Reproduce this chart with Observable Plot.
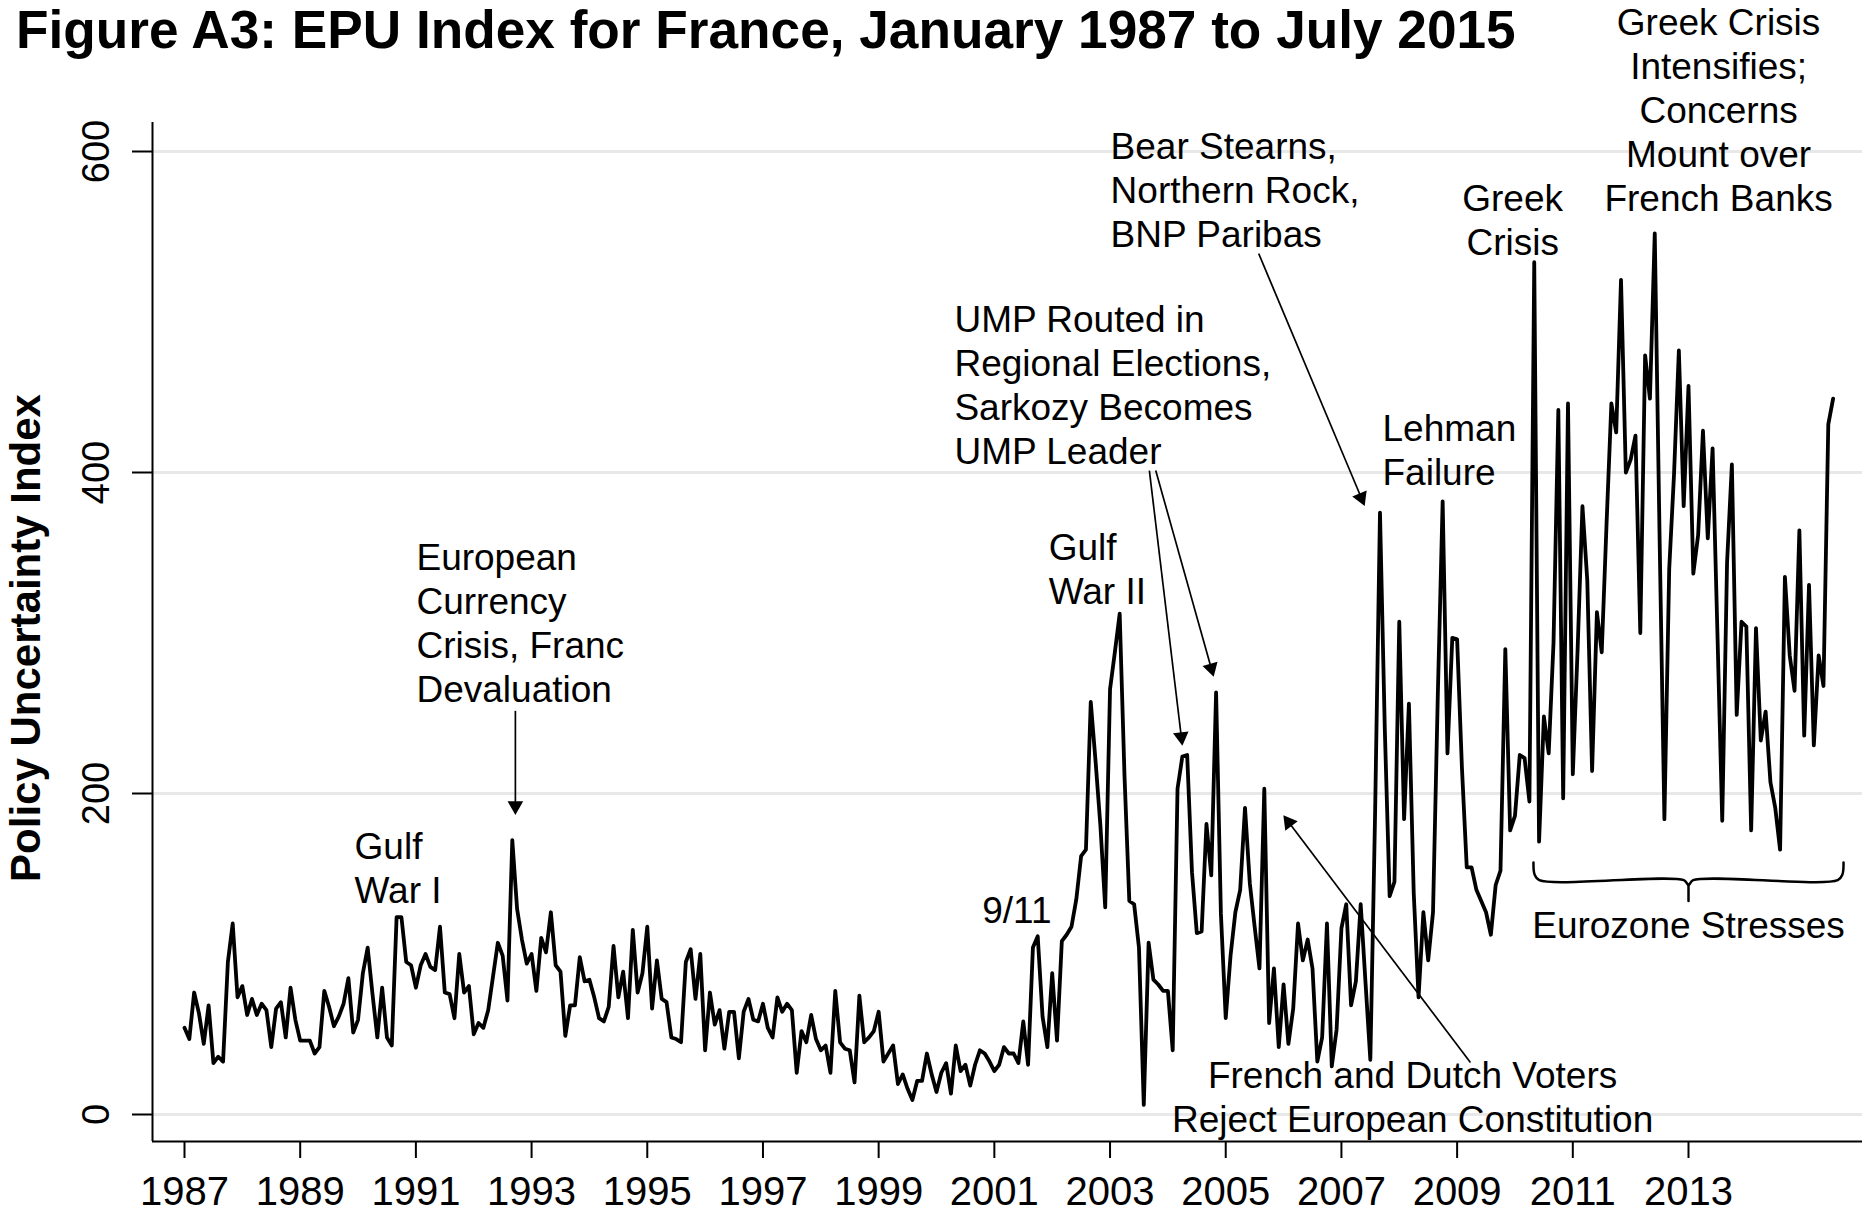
<!DOCTYPE html>
<html><head><meta charset="utf-8">
<script src="https://cdn.jsdelivr.net/npm/d3@7"></script>
<script src="https://cdn.jsdelivr.net/npm/@observablehq/plot@0.6"></script>
<style>
body{margin:0;background:#fff;}
#wrap{position:relative;width:1864px;height:1214px;overflow:hidden;}
#title{position:absolute;left:16px;top:0px;font:bold 53.2px "Liberation Sans",Arial,sans-serif;line-height:60px;white-space:nowrap;color:#000;z-index:2;}
#chart{position:absolute;left:0;top:0;}
</style></head>
<body><div id="wrap"><div id="title">Figure A3: EPU Index for France, January 1987 to July 2015</div><div id="chart"></div></div>
<script>
// ---- data: monthly EPU index for France, Jan 1987 .. Jul 2015 ----
const startYear = 1987;
const epu = [
  54,47,76,63,44,68,32,36,33,95,119,73,      // 1987
  80,62,72,62,69,65,42,66,70,48,79,59,       // 1988
  46,46,46,38,42,77,67,55,61,69,85,51,       // 1989
  59,88,104,75,48,79,48,43,123,123,95,93,    // 1990
  79,93,100,92,90,117,76,75,60,100,76,80,    // 1991
  50,57,54,65,86,107,99,71,171,128,109,94,   // 1992
  100,77,110,101,126,93,89,49,68,68,98,83,   // 1993
  84,73,60,58,67,105,73,89,60,115,76,88,     // 1994
  117,66,96,72,70,48,47,45,95,103,72,100,    // 1995
  40,76,56,65,41,64,64,35,64,72,59,58,       // 1996
  69,54,48,73,64,69,65,26,52,45,62,47,       // 1997
  40,43,26,77,45,41,40,20,74,45,48,52,       // 1998
  64,33,38,43,19,25,16,9,21,21,38,25,        // 1999
  14,26,32,13,43,27,31,18,31,40,38,33,       // 2000
  27,31,42,38,38,32,58,31,104,111,61,42,     // 2001
  88,46,108,112,117,134,161,165,257,220,180,129, // 2002
  265,288,312,211,133,131,104,6,107,84,81,77,    // 2003
  77,40,203,223,224,151,113,114,181,149,263,125, // 2004
  60,99,126,140,191,144,117,91,203,57,91,42,     // 2005
  81,44,66,119,96,109,91,33,48,119,30,53,        // 2006
  116,131,68,83,131,82,34,190,375,240,136,145,   // 2007
  307,184,256,138,73,126,96,126,262,382,225,297, // 2008
  296,216,154,154,140,133,126,112,143,152,290,177, // 2009
  186,224,222,195,531,170,248,225,294,439,197,443, // 2010
  212,290,379,333,214,313,288,368,443,425,520,400, // 2011
  408,423,300,473,446,549,360,184,340,399,476,379, // 2012
  454,337,361,426,359,415,300,183,344,405,249,307, // 2013
  304,177,303,233,251,207,191,165,335,286,264,364, // 2014
  236,330,230,286,267,430,446                      // 2015 (Jan-Jul)
];
const xTicks = [1987,1989,1991,1993,1995,1997,1999,2001,2003,2005,2007,2009,2011,2013];
const yTicks = [0,200,400,600];

// annotation texts (anchor: decimal year, index value of the last line's baseline)
const notesLeft = [
  {x:1989.94, y:131.5, text:"Gulf\nWar I"},
  {x:1991.01, y:256.7, text:"European\nCurrency\nCrisis, Franc\nDevaluation"},
  {x:2000.79, y:119.6, text:"9/11"},
  {x:2001.94, y:317.8, text:"Gulf\nWar II"},
  {x:2000.31, y:405.0, text:"UMP Routed in\nRegional Elections,\nSarkozy Becomes\nUMP Leader"},
  {x:2003.01, y:540.8, text:"Bear Stearns,\nNorthern Rock,\nBNP Paribas"},
  {x:2007.71, y:392.5, text:"Lehman\nFailure"}
];
const notesCenter = [
  {x:2009.96, y:535.8, text:"Greek\nCrisis"},
  {x:2013.52, y:563.2, text:"Greek Crisis\nIntensifies;\nConcerns\nMount over\nFrench Banks"},
  {x:2008.23, y:-11.2, text:"French and Dutch Voters\nReject European Constitution"},
  {x:2013.0, y:109.7, text:"Eurozone Stresses"}
];
const arrows = [
  {x1:1992.72, y1:251.5, x2:1992.72, y2:186.9},
  {x1:2003.68, y1:401.2, x2:2004.25, y2:229.9},
  {x1:2003.79, y1:401.2, x2:2004.79, y2:272.9},
  {x1:2005.57, y1:536.4, x2:2007.40, y2:379.4},
  {x1:2009.23, y1:32.4,  x2:2006.00, y2:186.3}
];
const bracePath = [
  {x:2010.32,y:157},{x:2010.34,y:149.5},{x:2010.42,y:146},{x:2012.92,y:146},
  {x:2013.0,y:143},{x:2013.08,y:146},{x:2015.58,y:146},{x:2015.66,y:149.5},{x:2015.68,y:157}
];
const braceTip = [{x:2013.0,y:143},{x:2013.0,y:133}];

// ---- layout ----
const W = 1864, H = 1214;
const mL = 152, mR = 2, mT = 122, mB = 73;
const xScale = {type:"linear", domain:[1987, 2013], range:[184, 1688]};
const yScale = {type:"linear", domain:[0, 600], range:[1114, 151]};
const sx = Plot.scale({x: xScale});
const sy = Plot.scale({y: yScale});

const series = epu.map((v, i) => ({t: startYear + i / 12, v}));

const HEAD = 13, TIPC = 8.66;
const heads = arrows.map(a => {
  const X1 = sx.apply(a.x1), Y1 = sy.apply(a.y1), X2 = sx.apply(a.x2), Y2 = sy.apply(a.y2);
  const L = Math.hypot(X2 - X1, Y2 - Y1), ux = (X2 - X1) / L, uy = (Y2 - Y1) / L;
  return {
    x1: a.x1, y1: a.y1,
    ex: sx.invert(X2 - (HEAD - 1) * ux), ey: sy.invert(Y2 - (HEAD - 1) * uy),
    cx: sx.invert(X2 - TIPC * ux), cy: sy.invert(Y2 - TIPC * uy),
    angle: Math.atan2(ux, -uy) * 180 / Math.PI
  };
});

const frameLeft = sx.invert(mL);
const frameBottom = sy.invert(H - mB);

const chart = Plot.plot({
  width: W, height: H,
  marginLeft: mL, marginRight: mR, marginTop: mT, marginBottom: mB,
  x: xScale, y: yScale,
  style: {fontFamily: "'Liberation Sans', Arial, sans-serif", background: "white", color: "black", overflow: "visible"},
  marks: [
    Plot.gridY(yTicks, {stroke: "#e8e8e8", strokeOpacity: 1, strokeWidth: 3}),
    Plot.ruleX([frameLeft], {stroke: "black", strokeWidth: 2}),
    Plot.ruleY([frameBottom], {stroke: "black", strokeWidth: 2}),
    Plot.axisY(yTicks, {tickSize: 20, tickFormat: () => "", label: null, strokeWidth: 2}),
    Plot.text(yTicks, {y: d => d, text: d => String(d), frameAnchor: "left", dx: -44, rotate: -90,
      textAnchor: "middle", lineAnchor: "bottom", fontSize: 38, fill: "black"}),
    Plot.text(["Policy Uncertainty Index"], {text: d => d, frameAnchor: "left", dx: -113, dy: 6, rotate: -90,
      textAnchor: "middle", lineAnchor: "bottom", fontSize: 42, fontWeight: "bold", fill: "black"}),
    Plot.axisX(xTicks, {tickSize: 17, tickPadding: 18, fontSize: 40, tickFormat: d => String(d), label: null, strokeWidth: 2}),
    Plot.line(series, {x: "t", y: "v", stroke: "black", strokeWidth: 3.8}),
    Plot.text(notesLeft, {x: "x", y: "y", text: "text", textAnchor: "start", lineAnchor: "bottom",
      lineHeight: 44 / 37, fontSize: 37, fill: "black"}),
    Plot.text(notesCenter, {x: "x", y: "y", text: "text", textAnchor: "middle", lineAnchor: "bottom",
      lineHeight: 44 / 37, fontSize: 37, fill: "black"}),
    Plot.link(heads, {x1: "x1", y1: "y1", x2: "ex", y2: "ey", stroke: "black", strokeWidth: 1.7}),
    Plot.dot(heads, {x: "cx", y: "cy", symbol: "triangle", r: 5.8, rotate: "angle", fill: "black", stroke: "none"}),
    Plot.line(bracePath, {x: "x", y: "y", stroke: "black", strokeWidth: 2.5, curve: "catmull-rom"}),
    Plot.line(braceTip, {x: "x", y: "y", stroke: "black", strokeWidth: 2.5})
  ]
});
document.getElementById("chart").appendChild(chart);
</script>
</body></html>
